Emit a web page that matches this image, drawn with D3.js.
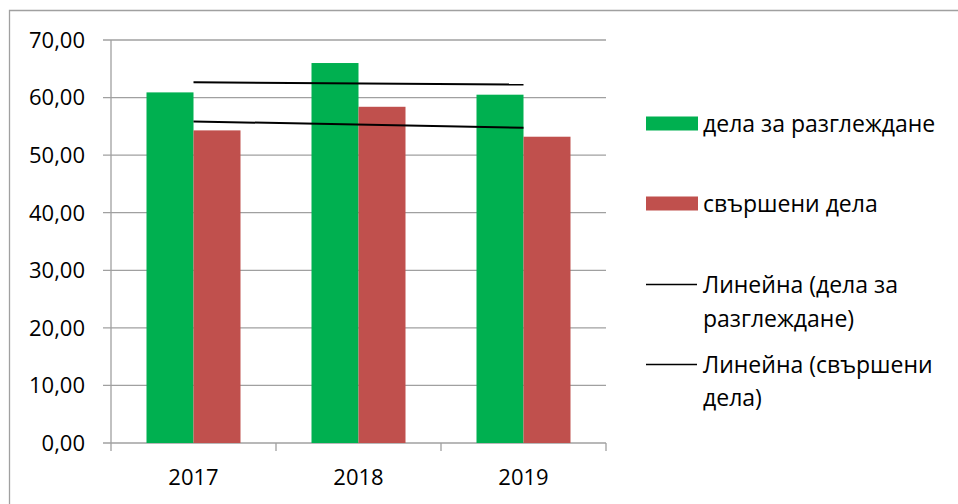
<!DOCTYPE html>
<html><head><meta charset="utf-8">
<script src="https://cdn.jsdelivr.net/npm/d3@7"></script>
<style>body{margin:0;background:#fff}svg{display:block}text{font-family:"Open Sans",sans-serif;fill:#000}</style>
</head><body>
<svg id="c" width="958" height="504"></svg>
<script>
const categories = ["2017", "2018", "2019"];
const seriesNames = ["дела за разглеждане", "свършени дела"];
const casesToReview = [60.9, 66.0, 60.5];
const completedCases = [54.3, 58.4, 53.2];
const yTicks = [0, 10, 20, 30, 40, 50, 60, 70];
const trendNames = [["Линейна (дела за", "разглеждане)"], ["Линейна (свършени", "дела)"]];
const colors = ["#00b050", "#c0504d"];

const svg = d3.select("#c");
// frame
svg.append("path").attr("d", "M9.5,504 V10.5 H958").attr("fill", "none").attr("stroke", "#a0a0a0").attr("stroke-width", 1.3);

const x0 = 111, x1 = 606, yTop = 40, yBot = 443;
const x = d3.scaleBand().domain(categories).range([x0, x1]).paddingInner(0).paddingOuter(0);
const y = d3.scaleLinear().domain([0, 70]).range([yBot, yTop]);
const groupW = 94;
const xs = d3.scaleBand().domain([0, 1]).range([0, groupW]);

const g = svg.append("g");
// gridlines
g.selectAll(".grid").data(yTicks).join("line")
  .attr("x1", x0 - 8).attr("x2", x1).attr("y1", d => y(d)).attr("y2", d => y(d))
  .attr("stroke", "#a0a0a0").attr("stroke-width", 1.3);
// y axis
g.append("line").attr("x1", x0).attr("x2", x0).attr("y1", yTop).attr("y2", yBot)
  .attr("stroke", "#a0a0a0").attr("stroke-width", 1.3);
// x ticks
const xt = categories.map(c => x(c)).concat([x1]);
g.selectAll(".xt").data(xt).join("line")
  .attr("x1", d => d).attr("x2", d => d).attr("y1", yBot).attr("y2", yBot + 8)
  .attr("stroke", "#a0a0a0").attr("stroke-width", 1.3);

const fmt = d => d3.format(".2f")(d).replace(".", ",");
g.selectAll(".yl").data(yTicks).join("text")
  .attr("x", 85).attr("y", d => y(d)).attr("dy", "0.36em").attr("text-anchor", "end")
  .attr("font-size", 22).text(fmt);
g.selectAll(".xl").data(categories).join("text")
  .attr("x", d => x(d) + x.bandwidth() / 2).attr("y", 477).attr("dy", "0.36em").attr("text-anchor", "middle")
  .attr("font-size", 22).text(d => d);

const series = [casesToReview, completedCases];
series.forEach((vals, si) => {
  g.selectAll(".b" + si).data(categories).join("rect")
    .attr("x", (c) => x(c) + x.bandwidth() / 2 - groupW / 2 + xs(si))
    .attr("width", xs.bandwidth())
    .attr("y", (c, i) => y(vals[i]))
    .attr("height", (c, i) => yBot - y(vals[i]))
    .attr("fill", colors[si]);
});

// linear trends (least squares)
series.forEach(vals => {
  const n = vals.length, xsI = d3.range(n);
  const mx = d3.mean(xsI), my = d3.mean(vals);
  const slope = d3.sum(xsI, i => (i - mx) * (vals[i] - my)) / d3.sum(xsI, i => (i - mx) ** 2);
  const b = my - slope * mx;
  const cx = i => x(categories[i]) + x.bandwidth() / 2;
  g.append("line").attr("x1", cx(0)).attr("x2", cx(n - 1))
    .attr("y1", y(b)).attr("y2", y(b + slope * (n - 1)))
    .attr("stroke", "#000").attr("stroke-width", 2);
});

// legend
const lg = svg.append("g");
const lx = 646, tx = 703, lfs = 23;
[123.5, 203.5].forEach((cy, i) => {
  lg.append("rect").attr("x", lx).attr("y", cy - 7).attr("width", 52).attr("height", 14).attr("fill", colors[i]);
  lg.append("text").attr("x", tx).attr("y", cy).attr("dy", "0.36em").attr("font-size", lfs).text(seriesNames[i]);
});
[[284.5, 285, 319], [364.5, 365, 398]].forEach((p, i) => {
  lg.append("line").attr("x1", lx).attr("x2", 697).attr("y1", p[0]).attr("y2", p[0]).attr("stroke", "#000").attr("stroke-width", 1.5);
  lg.append("text").attr("x", tx).attr("y", p[1]).attr("dy", "0.36em").attr("font-size", lfs).text(trendNames[i][0]);
  lg.append("text").attr("x", tx).attr("y", p[2]).attr("dy", "0.36em").attr("font-size", lfs).text(trendNames[i][1]);
});
</script>
</body></html>
